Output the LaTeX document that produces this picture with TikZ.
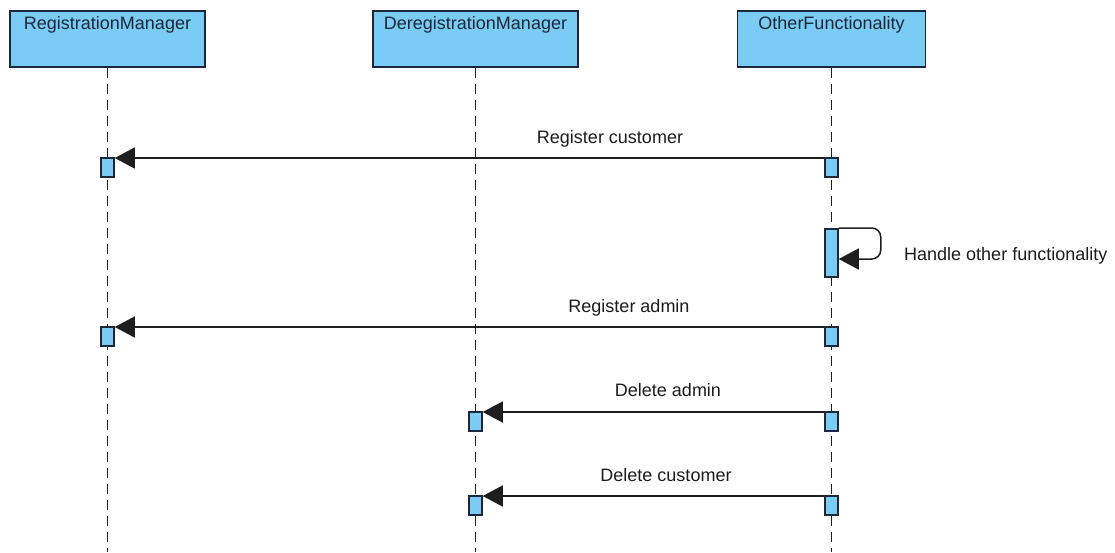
\documentclass[tikz,border=0pt]{standalone}
\usepackage{fontspec}
\setmainfont{Liberation Sans}
\usetikzlibrary{arrows.meta}
\definecolor{boxfill}{RGB}{122,204,244}
\definecolor{boxline}{RGB}{28,40,58}
\definecolor{inkline}{RGB}{30,30,30}
\definecolor{inktext}{RGB}{28,28,28}
\tikzset{
  head/.style={draw=boxline, fill=boxfill, line width=1.6pt, rectangle,
    text=boxline, text height=13pt, text depth=33pt, inner ysep=5pt, inner xsep=0pt},
  lifeline/.style={draw=inkline, line width=1.8pt, dash pattern=on 10pt off 6pt},
  act/.style={draw=boxline, fill=boxfill, line width=1.5pt, rectangle,
    minimum width=13pt, inner sep=0pt, anchor=north},
  msg/.style={draw=inkline, line width=1.5pt, -{Triangle[length=20pt,width=21pt]}},
  msglabel/.style={anchor=base, text=inktext, inner sep=0pt},
}
\begin{document}
\begin{tikzpicture}[x=1pt, y=-1pt, font=\fontsize{18}{22}\selectfont]
\useasboundingbox (0,0) rectangle (1115,552);

% lifeline heads
\node[head, minimum width=195pt] (rm) at (107.5,39) {RegistrationManager};
\node[head, minimum width=205pt] (dm) at (475.5,39) {DeregistrationManager};
\node[head, minimum width=188pt] (of) at (831.5,39) {OtherFunctionality};

% lifeline ends
\coordinate (rmend) at (107.5,552);
\coordinate (dmend) at (475.5,552);
\coordinate (ofend) at (831.5,552);

\draw[lifeline] (rm.south) -- (rmend);
\draw[lifeline] (dm.south) -- (dmend);
\draw[lifeline] (of.south) -- (ofend);

% activation bars
\node[act, minimum height=19pt] (a1) at (107.5,157) {};
\node[act, minimum height=19pt] (a2) at (831.5,157) {};
\node[act, minimum height=48pt] (s1) at (831.5,228) {};
\node[act, minimum height=19pt] (a3) at (107.5,326) {};
\node[act, minimum height=19pt] (a4) at (831.5,326) {};
\node[act, minimum height=19pt] (a5) at (475.5,411) {};
\node[act, minimum height=19pt] (a6) at (831.5,411) {};
\node[act, minimum height=19pt] (a7) at (475.5,495) {};
\node[act, minimum height=19pt] (a8) at (831.5,495) {};

% messages
\draw[msg] ([yshift=-1pt]a2.north west) -- ([yshift=-1pt]a1.north east);
\node[msglabel] (l1) at (610,143) {Register customer};

\draw[msg, rounded corners=9pt] (s1.north east) -- ++(42,0) |- ([yshift=-31pt]s1.north east);
\node[msglabel, anchor=base west] (l2) at (904,260) {Handle other functionality};

\draw[msg] ([yshift=-1pt]a4.north west) -- ([yshift=-1pt]a3.north east);
\node[msglabel] (l3) at (629,312) {Register admin};

\draw[msg] ([yshift=-1pt]a6.north west) -- ([yshift=-1pt]a5.north east);
\node[msglabel] (l4) at (668,396) {Delete admin};

\draw[msg] ([yshift=-1pt]a8.north west) -- ([yshift=-1pt]a7.north east);
\node[msglabel] (l5) at (666,481) {Delete customer};
\end{tikzpicture}
\end{document}
